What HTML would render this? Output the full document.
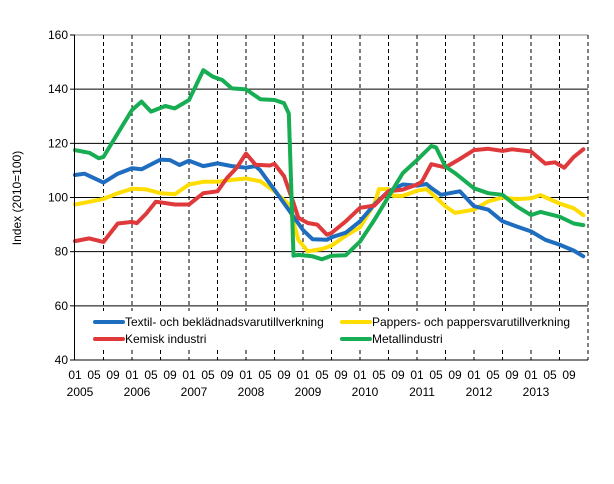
<!DOCTYPE html>
<html><head><meta charset="utf-8">
<style>
body{margin:0;background:#fff;}
svg text{font-family:"Liberation Sans",sans-serif;font-size:12px;fill:#000;}
</style></head>
<body>
<svg id="chart" width="614" height="479" xmlns="http://www.w3.org/2000/svg">
<rect x="0" y="0" width="614" height="479" fill="#fff"/>
<g id="grid"></g>
<rect x="80" y="311" width="505" height="38" fill="#fff"/>
<g id="series"></g>
<g id="axes"></g>
<g id="legend"></g>
</svg>
<script>
const yTicks=[40,60,80,100,120,140,160];
const yearLabels=["2005","2006","2007","2008","2009","2010","2011","2012","2013"];
const monthLabels=["01","05","09"];
const textilMonths=[0,2,6,9,12,14,18,20,22,24,27,30,33,36,38,39,42,45,48,50,53,54,57,60,63,66,69,72,74,75,77,81,84,87,90,93,96,99,102,105,107];
const textilValues=[108.3,108.8,105.5,108.8,110.8,110.4,114,113.8,112,113.6,111.6,112.6,111.6,111,111.6,110,102.8,95.4,88,84.6,84.4,85.3,87,91.2,97.4,102.3,104.8,104.4,105,103.5,101,102.3,96.8,95.5,91.2,89.3,87.5,84.4,82.6,80.4,78.3];
const pappersMonths=[0,3,6,9,12,15,18,21,24,27,30,33,36,39,42,45,47,49,52,54,57,60,63,64,66,67,69,72,74,76,78,80,84,87,90,93,96,98,102,105,107];
const pappersValues=[97.4,98.4,99.5,101.6,103.2,103,101.6,101.2,104.8,105.8,105.8,106.5,107,106,102.3,97.4,84.4,80.1,81,82.2,85.9,89,97.6,103.1,103.1,100.6,100.6,102.5,103.1,100,96.7,94.3,95.5,98.6,100,99.4,99.7,100.9,97.8,96,93.5];
const kemiskMonths=[0,3,6,9,12,13,15,17,18,21,24,27,30,32,34,36,38,41,42,44,46,47,49,51,53,54,57,60,63,66,69,72,73,75,78,81,84,87,90,92,96,99,101,103,105,107];
const kemiskValues=[83.9,84.9,83.6,90.4,91,90.5,94.1,98.4,98.2,97.4,97.4,101.6,102.3,107.2,110.9,116.2,112.1,111.8,112.4,107.9,98,92.5,90.6,90,86.3,86.9,91.2,96.2,97,102.3,102.9,104.8,105.8,112.3,111.1,114.2,117.5,118,117.2,117.8,117,112.5,113,111,115,117.8];
const metallMonths=[0,3,5,6,9,12,14,16,19,21,24,27,29,31,33,36,39,42,44,45,46,47,50,52,54,57,60,63,66,69,72,75,76,78,80,84,87,90,93,96,98,102,105,107];
const metallValues=[117.5,116.5,114.5,115,123.7,132.3,135.4,131.7,133.8,132.9,136,147,144.6,143.4,140.3,139.9,136.3,136,134.8,131,78.5,78.8,78.3,77.2,78.5,78.7,83.7,91.7,100.3,109,113.8,119,118.5,111.4,109,103.4,101.6,101,96.7,93.5,94.7,92.9,90.4,89.8];
const seriesNames=["Textil- och beklädnadsvarutillverkning","Pappers- och pappersvarutillverkning","Kemisk industri","Metallindustri"];
const seriesColors=["#1f6dbf","#ffdd00","#e0393b","#17ad53"];

const X0=75,PX_PER_MONTH=4.75,Y0=35,PX_PER_UNIT=325/120;
function xs(m){return X0+m*PX_PER_MONTH;}
function ys(v){return Y0+(160-v)*PX_PER_UNIT;}
const NS="http://www.w3.org/2000/svg";
function mk(tag,parent,attrs){const e=document.createElementNS(NS,tag);for(const k in attrs)e.setAttribute(k,attrs[k]);parent.appendChild(e);return e;}
const grid=document.getElementById('grid'),axes=document.getElementById('axes'),ser=document.getElementById('series'),leg=document.getElementById('legend');

yTicks.forEach(v=>{
  if(v===40)return;
  const l=mk('line',grid,{x1:xs(0),x2:xs(108),y1:ys(v),y2:ys(v),stroke:v===160?'#888':'#000','stroke-width':1});
  
  
});
for(let m=6;m<=108;m+=6){
  const l=mk('line',grid,{x1:xs(m),x2:xs(m),y1:ys(160),y2:ys(40),stroke:'#000','stroke-width':1,'stroke-dasharray':'4,3'});
  
  
}
const ax=mk('line',axes,{x1:xs(0)-0.5,x2:xs(0)-0.5,y1:ys(160),y2:ys(40),stroke:'#000','stroke-width':1});


const bx=mk('line',axes,{x1:xs(0)-5,x2:xs(108),y1:ys(40),y2:ys(40),stroke:'#000','stroke-width':1});


yTicks.forEach(v=>{
  const t=mk('line',axes,{x1:xs(0)-5,x2:xs(0),y1:ys(v),y2:ys(v),stroke:'#000'});
  
  
  const tx=mk('text',axes,{x:xs(0)-7,y:ys(v)+4,'text-anchor':'end'});
  tx.textContent=v;
  
  
});
const yt=mk('text',axes,{x:21,y:198,'text-anchor':'middle',transform:'rotate(-90 21 198)'});
yt.textContent='Index (2010=100)';


yearLabels.forEach((yr,i)=>{
  monthLabels.forEach((ml,j)=>{
    const t=mk('text',axes,{x:xs(i*12+j*4),y:379,'text-anchor':'middle'});
    t.textContent=ml;
    
    
  });
  const t=mk('text',axes,{x:xs(i*12)+5,y:396,'text-anchor':'middle'});
  t.textContent=yr;
  
  
});
const allMonths=[textilMonths,pappersMonths,kemiskMonths,metallMonths];
const allValues=[textilValues,pappersValues,kemiskValues,metallValues];
const order=[1,0,2,3];
order.forEach(i=>{
  const pts=allMonths[i].map((m,k)=>xs(m).toFixed(1)+','+ys(allValues[i][k]).toFixed(1)).join(' ');
  const p=mk('polyline',ser,{points:pts,fill:'none',stroke:seriesColors[i],'stroke-width':4,'stroke-linejoin':'round','stroke-linecap':'round'});
  
  
});
const legPos=[[95,322],[342,322],[95,339],[342,339]];
seriesNames.forEach((n,i)=>{
  const [lx,ly]=legPos[i];
  const l=mk('line',leg,{x1:lx,x2:lx+28,y1:ly,y2:ly,stroke:seriesColors[i],'stroke-width':4,'stroke-linecap':'round'});
  
  
  const t=mk('text',leg,{x:lx+30,y:ly+4});
  t.textContent=n;
  
  
});
</script>
</body></html>
